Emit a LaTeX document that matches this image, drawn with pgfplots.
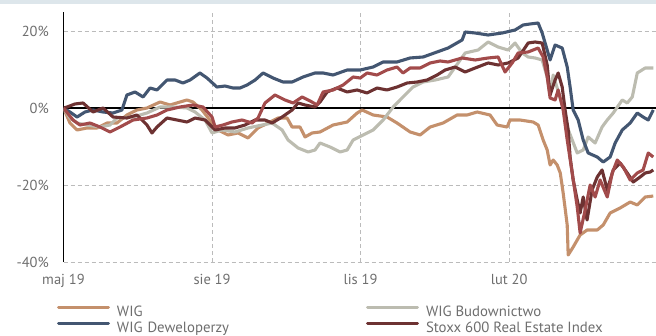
\documentclass[border=0pt]{standalone}
\usepackage{fontspec}
\setmainfont{PT Sans}
\usepackage{pgfplots}
\pgfplotsset{compat=1.18}
\definecolor{cwig}{HTML}{C4906C}
\definecolor{cbud}{HTML}{BCBCB0}
\definecolor{cdew}{HTML}{435671}
\definecolor{cstx}{HTML}{6D3232}
\definecolor{cred}{HTML}{A24B4B}
\definecolor{cgrid}{HTML}{BBBBBB}
\definecolor{ctxt}{HTML}{6E6E6E}
\definecolor{cband}{HTML}{DDE6EB}
\begin{document}
\begin{tikzpicture}
\useasboundingbox (0,0) rectangle (656pt,336pt);
\fill[cband] (0,332pt) rectangle (656pt,336pt);
\begin{axis}[
 at={(63.5pt,74pt)}, anchor=south west, scale only axis,
 width=592.5pt, height=250.25pt,
 xmin=0, xmax=367, ymin=-40, ymax=25,
 axis line style={draw=none},
 xtick={92,184,276}, xticklabels={sie 19,lis 19,lut 20},
 ytick={-40,-20,20}, yticklabels={-40\%,-20\%,20\%},
 extra x ticks={0}, extra x tick labels={maj 19},
 extra y ticks={0}, extra y tick labels={0\%},
 extra x tick style={grid style={black, solid, line width=1pt}},
 extra y tick style={grid style={black, solid, line width=1.3pt}},
 grid=major, grid style={cgrid, dash pattern=on 4pt off 3pt, line width=0.9pt},
 major tick length=0pt,
 tick label style={font=\fontsize{14.5}{16}\selectfont, text=ctxt},
 xticklabel style={inner sep=0pt, anchor=north, yshift=-12pt},
 yticklabel style={inner sep=0pt, anchor=east, xshift=-14.5pt},
 legend columns=2,
 legend cell align=left,
 legend style={at={(axis description cs:-0.01097,-0.166)}, anchor=north west, draw=none, fill=none, inner sep=0pt, outer sep=0pt, row sep=0pt, column sep=5pt, font=\fontsize{14.8}{16}\selectfont, text=ctxt, /tikz/column 2/.style={text width=242pt}},
 legend image code/.code={\draw[line width=3pt, line cap=round] (1.5pt,4pt) -- (51.5pt,4pt);},
 every axis plot/.append style={line width=3.1pt, line join=round, no markers},
]
% WIG
\addplot[cwig] coordinates {
(0,0) (4.0,-3.90) (8.4,-5.71) (14.6,-5.19) (20.8,-5.19) (27.0,-3.90) (33.1,-3.90) (39.3,-1.82) (45.5,-0.52) (51.7,0) (59.8,1.56) (66.0,0.78) (72.2,1.56) (76.5,2.08) (80.2,1.56) (85.8,-0.52) (92.0,-3.90) (96.9,-5.97) (101.9,-7.01) (108.1,-6.49) (114.3,-7.79) (120.5,-5.19) (126.7,-3.90) (132.9,-2.60) (138.5,-2.60) (141.6,-4.94) (146.5,-4.94) (149.6,-7.53) (154.0,-6.49) (158.9,-6.23) (167.0,-4.42) (175.7,-3.64) (181.9,-1.30) (185.0,-0.52) (191.8,-1.82) (200.4,-2.34) (206.6,-3.90) (214.7,-6.23) (220.9,-7.01) (227.1,-4.94) (235.1,-3.90) (243.8,-1.82) (250.0,-1.82) (256.2,-1.04) (264.2,-1.82) (268.6,-4.42) (274.8,-4.94) (276.6,-3.12) (282.8,-3.12) (290.9,-3.64) (294.0,-4.42) (297.1,-8.31) (299.6,-10.91) (301.4,-14.81) (303.3,-13.51) (305.8,-14.81) (307.7,-16.88) (309.5,-22.08) (312.0,-30.39) (312.6,-38.18) (315.7,-36.10) (320.0,-32.99) (324.3,-31.69) (330.6,-31.69) (334.3,-30.39) (338.6,-27.27) (344.8,-25.97) (351.0,-24.42) (355.4,-25.19) (360.3,-23.12) (365.3,-22.86)
};
\addlegendentry{WIG}
% WIG Budownictwo
\addplot[cbud] coordinates {
(0,0) (4.0,-2.60) (8.4,-3.90) (14.6,-4.42) (22.6,-4.94) (28.8,-4.42) (33.1,-2.60) (43.1,-2.34) (51.7,-1.30) (59.8,0.26) (67.9,0.26) (76.5,0) (81.5,-1.04) (87.7,-3.12) (92.0,-6.49) (98.2,-5.71) (106.2,-6.23) (114.3,-5.19) (123.0,-4.42) (129.2,-3.90) (135.4,-5.71) (139.1,-8.31) (145.3,-10.39) (151.5,-11.43) (155.8,-10.91) (158.9,-9.09) (165.1,-10.13) (171.3,-11.43) (175.7,-10.91) (179.4,-8.31) (185.6,-7.01) (191.8,-5.71) (198.0,-3.12) (204.2,0.26) (210.3,2.86) (216.5,5.45) (222.8,6.75) (230.2,7.27) (238.2,8.05) (244.4,11.69) (248.8,14.29) (256.8,15.06) (263.0,17.14) (269.2,15.84) (275.4,15.06) (279.7,16.88) (284.1,14.29) (287.8,13.25) (292.1,12.99) (296.5,12.47) (299.6,8.05) (301.4,3.38) (303.3,8.57) (305.8,5.19) (308.9,0.78) (312.0,-4.94) (315.1,-8.31) (318.2,-11.69) (321.9,-10.91) (325.0,-7.53) (329.3,-9.09) (333.6,-4.94) (336.8,-3.12) (340.5,-1.30) (346.1,2.08) (349.2,1.30) (352.3,2.86) (355.4,9.09) (360.3,10.39) (365.3,10.39)
};
\addlegendentry{WIG Budownictwo}
% WIG Deweloperzy
\addplot[cdew] coordinates {
(0,0) (4.0,-1.04) (8.4,-2.34) (13.3,-1.04) (18.3,-0.52) (24.5,-1.04) (30.7,-1.30) (36.2,-0.52) (39.3,3.38) (44.3,4.16) (49.3,2.86) (53.6,5.19) (57.9,4.68) (64.1,7.27) (69.1,7.27) (74.0,6.49) (78.4,7.27) (84.5,9.09) (88.9,7.79) (95.0,5.45) (100.0,5.71) (105.0,5.19) (109.3,5.19) (113.7,5.97) (118.7,7.27) (123.6,9.09) (129.8,7.79) (136.0,6.75) (141.6,6.75) (148.4,8.05) (155.8,9.09) (160.8,9.09) (167.0,8.57) (175.7,9.87) (183.8,9.87) (191.8,10.65) (198.0,11.95) (206.6,11.95) (214.7,12.99) (222.8,13.25) (231.4,14.55) (238.2,15.58) (246.9,17.66) (248.8,19.74) (255.0,19.48) (263.0,18.96) (271.7,19.48) (279.7,20.26) (284.7,21.56) (289.0,21.82) (294.0,22.08) (296.5,19.48) (299.6,15.06) (301.4,12.47) (304.5,16.36) (308.9,15.58) (312.0,10.65) (313.8,5.45) (315.7,-0.52) (318.8,-3.12) (321.9,-8.31) (325.0,-11.69) (330.6,-12.73) (334.3,-14.03) (338.6,-12.73) (341.7,-9.09) (346.1,-5.71) (351.0,-3.90) (355.4,-1.30) (359.0,-2.34) (362.2,-3.12) (365.3,-0.52)
};
\addlegendentry{WIG Deweloperzy}
% Stoxx 600 Real Estate
\addplot[cstx] coordinates {
(0,0) (2.2,0.26) (7.1,1.04) (12.1,1.30) (18.3,-1.04) (24.5,0) (30.7,-2.34) (39.3,-2.60) (45.5,-1.82) (51.7,-4.42) (54.8,-6.49) (57.9,-4.94) (64.1,-2.60) (70.3,-3.12) (76.5,-3.64) (81.5,-2.60) (87.7,-3.12) (93.9,-5.71) (100.1,-5.19) (106.2,-5.19) (112.4,-4.42) (118.7,-3.12) (124.8,-3.12) (129.2,-3.90) (135.4,-2.34) (141.6,-0.52) (145.3,1.30) (149.6,0.78) (155.8,0.26) (158.9,1.56) (163.3,4.16) (169.4,5.19) (175.7,4.16) (181.9,4.68) (188.0,3.90) (194.2,5.19) (200.4,4.68) (206.6,5.45) (212.8,6.49) (219.0,6.75) (225.2,7.27) (231.4,8.57) (236.4,9.87) (242.6,10.65) (248.8,9.35) (255.0,10.39) (263.0,11.69) (269.2,11.17) (275.4,11.69) (281.6,12.99) (287.8,16.88) (292.1,17.14) (296.5,16.88) (299.6,11.17) (301.4,3.38) (304.5,7.27) (306.4,9.09) (308.9,5.45) (310.7,-0.52) (312.6,-5.71) (313.8,-12.73) (315.7,-18.70) (318.2,-23.90) (320.0,-27.27) (321.9,-23.12) (324.3,-29.09) (327.4,-21.30) (330.6,-17.92) (333.6,-16.10) (336.8,-21.30) (340.5,-16.10) (344.8,-14.29) (349.2,-16.88) (352.9,-19.22) (357.2,-17.92) (360.3,-16.88) (363.4,-16.62) (365.3,-16.10)
};
\addlegendentry{Stoxx 600 Real Estate Index}
% unlabelled red series
\addplot[cred, forget plot] coordinates {
(0,0) (5.9,-3.12) (10.2,-4.42) (16.4,-3.90) (22.6,-4.94) (28.8,-6.23) (35.0,-4.94) (43.1,-3.12) (51.7,-2.60) (57.9,-1.82) (64.1,-0.52) (72.2,0.26) (80.2,0.78) (86.4,0.26) (92.0,-2.34) (93.9,-4.94) (98.8,-4.42) (104.4,-3.64) (110.6,-3.12) (116.8,-3.90) (120.5,-2.60) (124.8,1.30) (131.0,3.38) (137.2,2.08) (142.2,1.30) (147.8,2.86) (152.8,1.82) (157.1,0.78) (160.8,4.16) (167.0,4.68) (173.2,5.97) (179.4,8.05) (183.8,7.79) (188.1,9.09) (194.2,8.57) (200.4,9.87) (206.6,10.65) (210.3,9.09) (214.7,10.39) (220.9,10.39) (227.1,11.69) (233.3,12.21) (238.2,11.95) (246.9,12.99) (255.0,12.47) (263.0,12.99) (269.2,13.25) (273.5,9.35) (277.9,11.69) (281.6,14.29) (287.8,14.55) (294.0,15.58) (297.1,13.25) (299.6,8.05) (301.4,2.60) (304.5,2.08) (306.4,4.68) (309.5,-0.52) (312.0,-8.31) (315.1,-16.88) (318.2,-25.71) (320.0,-32.47) (323.1,-26.49) (326.2,-20.00) (329.3,-23.12) (332.4,-18.70) (336.8,-23.12) (339.9,-16.88) (343.0,-13.51) (346.7,-15.32) (351.0,-18.70) (355.4,-16.88) (359.0,-16.10) (362.2,-11.69) (365.3,-12.73)
};
\end{axis}
\end{tikzpicture}
\end{document}
